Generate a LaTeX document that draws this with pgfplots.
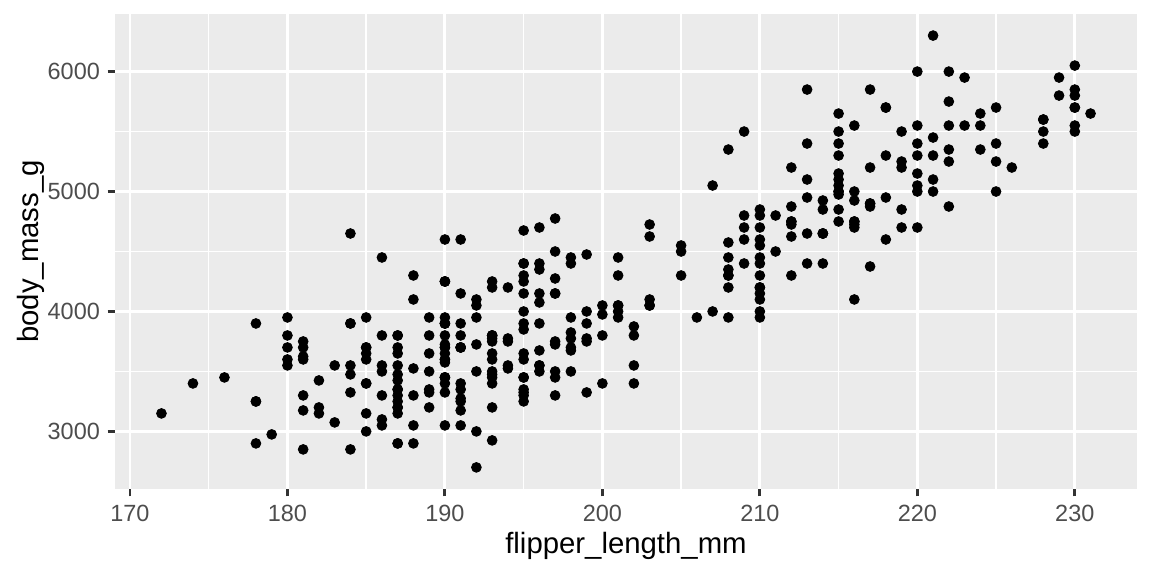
\documentclass[border=0pt]{standalone}
\usepackage{pgfplots}
\pgfplotsset{compat=1.18}
\usepackage{pgfplotstable}
\usepackage{fontspec}
\setmainfont{Liberation Sans}
\definecolor{ggbg}{HTML}{EBEBEB}
\definecolor{ggtick}{HTML}{333333}
\definecolor{gglab}{HTML}{4D4D4D}
\pgfplotstableread{
x y
181 3750
186 3800
195 3250
193 3450
190 3650
181 3625
195 4675
193 3475
190 4250
186 3300
180 3700
182 3200
191 3800
198 4400
185 3700
195 3450
197 4500
184 3325
194 4200
174 3400
180 3600
189 3800
185 3950
180 3800
187 3800
183 3550
187 3200
172 3150
180 3950
178 3250
178 3900
188 3300
184 3900
195 3325
196 4150
190 3950
180 3550
181 3300
184 4650
182 3150
195 3900
186 3100
196 4400
185 3000
190 4600
182 3425
179 2975
190 3450
191 4150
186 3500
188 4300
190 3450
200 4050
187 2900
191 3700
186 3550
193 3800
181 2850
194 3750
185 3150
195 4400
185 3600
192 4050
184 2850
192 3950
195 3350
188 4100
190 3050
198 4450
190 3600
190 3900
196 3550
197 4150
190 3700
195 4250
191 3700
184 3900
187 3550
195 4000
189 3200
196 4700
187 3800
193 4200
191 3350
194 3550
190 3800
189 3500
189 3950
190 3600
202 3550
205 4300
185 3400
186 4450
187 3300
208 4300
190 3700
196 4350
178 2900
192 4100
192 3725
203 4725
183 3075
190 4250
193 2925
184 3550
199 3750
190 3900
181 3175
197 4775
198 3825
191 4600
193 3200
197 4275
191 3900
196 4075
188 2900
199 3775
189 3350
189 3325
187 3150
198 3500
176 3450
202 3875
186 3050
199 4000
191 3275
195 4300
191 3050
210 4000
190 3325
197 3500
193 3500
199 4475
187 3425
190 3900
191 3175
200 3975
185 3400
193 4250
193 3400
187 3475
188 3050
190 3725
192 3000
185 3650
190 4250
184 3475
195 3450
193 3750
187 3700
201 4000
211 4500
230 5700
210 4450
218 5700
215 5400
210 4550
211 4800
219 5200
209 4400
215 5150
214 4650
216 5550
214 4650
213 5850
210 4200
217 5850
210 4150
221 6300
209 4800
222 5350
218 5700
215 5000
213 4400
215 5050
215 5000
215 5100
216 4100
215 5650
210 4600
220 5550
222 5250
209 4700
207 5050
230 6050
220 5150
220 5400
213 4950
219 5250
208 4350
208 5350
208 3950
225 5700
210 4300
216 4750
222 5550
217 4900
210 4200
225 5400
213 5100
215 5300
210 4850
220 5300
210 4400
225 5000
217 4900
220 5050
208 4300
220 5000
208 4450
224 5550
208 4200
221 5300
214 4400
231 5650
219 4700
230 5700
214 4650
229 5800
220 4700
223 5550
216 4750
221 5000
221 5100
217 5200
216 4700
230 5800
209 4600
220 6000
215 4750
223 5950
212 4625
221 5450
212 4725
224 5350
212 4750
228 5600
218 4600
218 5300
212 4875
230 5550
218 4950
228 5400
212 4750
224 5650
214 4850
226 5200
216 4925
222 4875
203 4625
225 5250
219 4850
228 5600
215 4975
228 5500
216 4725
215 5500
210 4700
219 5500
208 4575
209 5500
216 5000
229 5950
213 4650
230 5500
217 4375
230 5850
217 4875
222 6000
214 4925
215 4850
222 5750
212 5200
213 5400
192 3500
196 3900
193 3650
188 3525
197 3725
198 3950
178 3250
197 3750
195 4150
198 3700
193 3800
194 3775
185 3700
201 4050
190 3575
201 4050
197 3300
181 3700
190 3450
195 4400
181 3600
191 3400
187 2900
193 3800
195 3300
197 4150
200 3400
200 3800
191 3700
205 4550
187 3200
201 4300
187 3350
203 4100
195 3600
199 3900
195 3850
210 4800
192 2700
205 4500
210 3950
187 3650
196 3550
196 3500
196 3675
201 4450
190 3400
212 4300
187 3250
198 3675
199 3325
201 3950
193 3600
203 4050
187 3350
197 3450
191 3250
203 4050
202 3800
194 3525
206 3950
189 3650
195 3650
207 4000
202 3400
193 3775
210 4100
198 3775
}\penguins
\begin{document}
\begin{tikzpicture}
\useasboundingbox (0,0) rectangle (576pt,288pt);
\begin{axis}[
  at={(57.5pt,43.5pt)}, anchor=south west,
  scale only axis, width=511pt, height=237.5pt,
  xmin=169.05, xmax=233.95, ymin=2520, ymax=6480,
  xtick={170,180,...,230}, ytick={3000,4000,5000,6000},
  minor x tick num=1, minor y tick num=1,
  axis background/.style={fill=ggbg},
  axis line style={draw=none},
  grid=both,
  major grid style={white, line width=1.42pt},
  minor grid style={white, line width=0.71pt},
  xtick pos=bottom, ytick pos=left,
  tick align=outside,
  major tick length=3.67pt, minor tick length=0pt,
  every tick/.style={ggtick, line width=1.42pt},
  /pgf/number format/assume math mode=true,
  /pgf/number format/.cd, 1000 sep={}, /pgfplots/.cd,
  ticklabel style={font=\fontsize{11.73}{14}\selectfont, text=gglab},
  xticklabel style={anchor=base, inner sep=0pt, yshift=-12.7pt},
  yticklabel style={anchor=east, inner sep=0pt, xshift=-3.7pt},
  xlabel={flipper\_length\_mm}, ylabel={body\_mass\_g},
  label style={font=\fontsize{14.67}{17}\selectfont, text=black, inner sep=0pt},
  xlabel style={at={(axis description cs:0.5,-0.1368)}, anchor=base},
  ylabel style={at={(axis description cs:-0.0750,0.5)}, anchor=base, rotate=0},
]
\addplot[only marks, mark=*, mark size=2.45pt, mark options={draw=black, fill=black}] table[x=x, y=y] {\penguins};
\end{axis}
\end{tikzpicture}
\end{document}
